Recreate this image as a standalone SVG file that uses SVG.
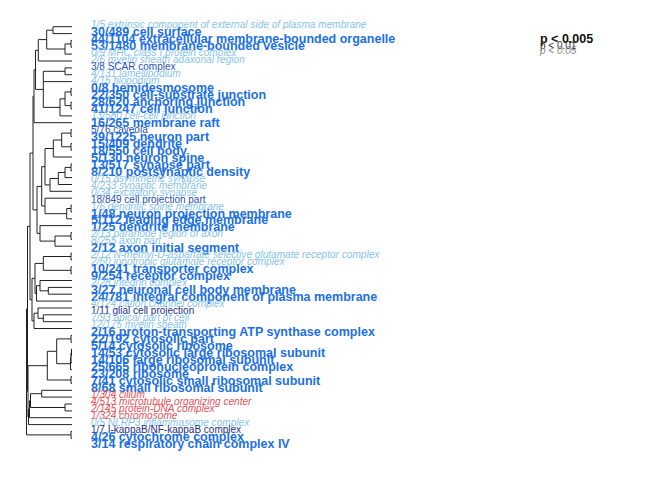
<svg xmlns="http://www.w3.org/2000/svg" width="672" height="480" viewBox="0 0 672 480">
<style>
text{font-family:"Liberation Sans",Arial,sans-serif}
.b{font-size:12.5px;font-weight:bold;fill:#1b6fe6}
.i{font-size:10.1px;font-style:italic;fill:#88c4ea}
.n{font-size:10px;fill:#2a4fb8}
.d{font-size:10px;fill:#1f2d8a}
.r{font-size:10.1px;font-style:italic;fill:#e5525a}
.tree{fill:none;stroke:#222;stroke-width:1}
</style>
<rect width="672" height="480" fill="#fff"/>
<g id="connectors">
<path class="tree" d="M53 26.7V33.6M53 26.7H72M53 33.6H72
M71 40.4V47.3M71 40.4H72M71 47.3H72
M65 43.9V54.1M65 43.9H71M65 54.1H72
M46.7 30.2V49M46.7 30.2H53M46.7 49H65
M38.3 39.6V61M38.3 39.6H46.7M38.3 61H72
M65 67.9V74.7M65 67.9H72M65 74.7H72
M71 88.4V95.3M71 88.4H72M71 95.3H72
M71 102.2V109M71 102.2H72M71 109H72
M65 91.9V105.6M65 91.9H71M65 105.6H71
M60 98.8V115.9M60 98.8H65M60 115.9H72
M43.3 71.3V107.4M43.3 71.3H65M43.3 81.6H72M43.3 107.4H60
M35.5 50.3V89.4M35.5 50.3H38.3M35.5 89.4H43.3
M34 69.9V122.7M34 69.9H35.5M34 122.7H72
M71 129.6V136.5M71 129.6H72M71 136.5H72
M71 143.3V150.2M71 143.3H72M71 150.2H72
M61.7 133.1V146.8M61.7 133.1H71M61.7 146.8H71
M53.3 140V157M53.3 140H61.7M53.3 157H72
M71 163.9V170.8M71 163.9H72M71 170.8H72
M65 167.4V177.6M65 167.4H71M65 177.6H72
M58.3 172.5V184.5M58.3 172.5H65M58.3 184.5H72
M50 178.5V191.3M50 178.5H58.3M50 191.3H72
M45 148.5V184.9M45 148.5H53.3M45 184.9H50
M71 205.1V211.9M71 205.1H72M71 211.9H72
M66.7 208.5V218.8M66.7 208.5H71M66.7 218.8H72
M45 198.2V213.7M45 198.2H72M45 213.7H66.7
M41.7 166.7V206M41.7 166.7H45M41.7 206H45
M71 232.5V239.4M71 232.5H72M71 239.4H72
M55 236V246.2M55 236H71M55 246.2H72
M40 225.6V241.1M40 225.6H72M40 241.1H55
M37 186.4V233.4M37 186.4H41.7M37 233.4H40
M33 96.3V209.9M33 96.3H34M33 209.9H37
M71 253.1V259.9M71 253.1H72M71 259.9H72
M71 266.8V273.7M71 266.8H72M71 273.7H72
M43.3 256.5V270.3M43.3 256.5H71M43.3 270.3H71
M48.3 287.4V294.2M48.3 287.4H72M48.3 294.2H72
M40 280.5V290.8M40 280.5H72M40 290.8H48.3
M36.5 285.7V301.1M36.5 285.7H40M36.5 301.1H72
M35 263.4V293.4M35 263.4H43.3M35 293.4H36.5
M43.3 314.8V321.7M43.3 314.8H72M43.3 321.7H72
M38 308V318.3M38 308H72M38 318.3H43.3
M34 313.2V328.5M34 313.2H38M34 328.5H72
M32 278.4V320.9M32 278.4H35M32 320.9H34
M30 153.1V299.7M30 153.1H33M30 299.7H32
M71 335.4V342.3M71 335.4H72M71 342.3H72
M71.5 349.1V356M71.5 349.1H72M71.5 356H72
M71 352.6V362.8M71 352.6H71.5M71 362.8H72
M70.5 357.7V369.7M70.5 357.7H71M70.5 369.7H72
M56.7 338.9V363.7M56.7 338.9H71M56.7 363.7H70.5
M71 376.6V383.4M71 376.6H72M71 383.4H72
M47.3 351.3V380M47.3 351.3H56.7M47.3 380H71
M41.7 390.3V397.1M41.7 390.3H72M41.7 397.1H72
M65 404V410.9M65 404H72M65 410.9H72
M30.5 393.7V407.5M30.5 393.7H41.7M30.5 407.5H65
M29.5 400.6V417.7M29.5 400.6H30.5M29.5 417.7H72
M28.5 409.2V424.6M28.5 409.2H29.5M28.5 424.6H72
M28 365.7V416.9M28 365.7H47.3M28 416.9H28.5
M71 431.4V438.3M71 431.4H72M71 438.3H72
M27.5 226.4V391.3M27.5 226.4H30M27.5 391.3H28
M26.5 308.9V434.9M26.5 308.9H27.5M26.5 434.9H71"/>
</g>
<g id="leaf-00"><text class="i" x="91" y="28">1/5 extrinsic component of external side of plasma membrane</text></g>
<g id="leaf-01"><text class="b" x="91" y="36">30/489 cell surface</text></g>
<g id="leaf-02"><text class="b" x="91" y="43">44/1104 extracellular membrane-bounded organelle</text></g>
<g id="leaf-03"><text class="b" x="91" y="49.9">53/1480 membrane-bounded vesicle</text></g>
<g id="leaf-04"><text class="i" x="91" y="55.9">0/9 MHC class I protein complex</text></g>
<g id="leaf-05"><text class="i" x="91" y="62.9">2/6 myelin sheath adaxonal region</text></g>
<g id="leaf-06"><text class="n" x="91" y="69.9">3/8 SCAR complex</text></g>
<g id="leaf-07"><text class="i" x="91" y="76.9">4/131 lamellipodium</text></g>
<g id="leaf-08"><text class="i" x="91" y="83.8">4/15 filopodium</text></g>
<g id="leaf-09"><text class="b" x="91" y="91.8">0/8 hemidesmosome</text></g>
<g id="leaf-10"><text class="b" x="91" y="98.8">22/350 cell-substrate junction</text></g>
<g id="leaf-11"><text class="b" x="91" y="105.8">28/620 anchoring junction</text></g>
<g id="leaf-12"><text class="b" x="91" y="112.8">41/1247 cell junction</text></g>
<g id="leaf-13"><text class="i" x="91" y="118.7">13/580 cell-cell junction</text></g>
<g id="leaf-14"><text class="b" x="91" y="126.7">16/265 membrane raft</text></g>
<g id="leaf-15"><text class="n" x="91" y="132.7">5/76 caveola</text></g>
<g id="leaf-16"><text class="b" x="91" y="140.7">39/1225 neuron part</text></g>
<g id="leaf-17"><text class="b" x="91" y="147.7">15/409 dendrite</text></g>
<g id="leaf-18"><text class="b" x="91" y="154.6">18/550 cell body</text></g>
<g id="leaf-19"><text class="b" x="91" y="161.6">5/130 neuron spine</text></g>
<g id="leaf-20"><text class="b" x="91" y="168.6">13/517 synapse part</text></g>
<g id="leaf-21"><text class="b" x="91" y="175.6">8/210 postsynaptic density</text></g>
<g id="leaf-22"><text class="i" x="91" y="181.6">0/15 asymmetric synapse</text></g>
<g id="leaf-23"><text class="i" x="91" y="188.5">4/233 synaptic membrane</text></g>
<g id="leaf-24"><text class="i" x="91" y="195.5">0/34 excitatory synapse</text></g>
<g id="leaf-25"><text class="n" x="91" y="202.5">18/849 cell projection part</text></g>
<g id="leaf-26"><text class="i" x="91" y="209.5">1/6 dendritic spine membrane</text></g>
<g id="leaf-27"><text class="b" x="91" y="217.5">1/48 neuron projection membrane</text></g>
<g id="leaf-28"><text class="b" x="91" y="224.4">5/112 leading edge membrane</text></g>
<g id="leaf-29"><text class="b" x="91" y="231.4">1/25 dendrite membrane</text></g>
<g id="leaf-30"><text class="i" x="91" y="237.4">2/13 paranode region of axon</text></g>
<g id="leaf-31"><text class="i" x="91" y="244.4">8/255 axon part</text></g>
<g id="leaf-32"><text class="b" x="91" y="252.4">2/12 axon initial segment</text></g>
<g id="leaf-33"><text class="i" x="91" y="258.3">2/12 N-methyl-D-aspartate selective glutamate receptor complex</text></g>
<g id="leaf-34"><text class="i" x="91" y="265.3">2/60 ionotropic glutamate receptor complex</text></g>
<g id="leaf-35"><text class="b" x="91" y="273.3">10/241 transporter complex</text></g>
<g id="leaf-36"><text class="b" x="91" y="280.3">9/254 receptor complex</text></g>
<g id="leaf-37"><text class="i" x="91" y="286.3">2/28 integrin complex</text></g>
<g id="leaf-38"><text class="b" x="91" y="294.2">3/27 neuronal cell body membrane</text></g>
<g id="leaf-39"><text class="b" x="91" y="301.2">24/781 integral component of plasma membrane</text></g>
<g id="leaf-40"><text class="i" x="91" y="307.2">4/124 cation channel complex</text></g>
<g id="leaf-41"><text class="d" x="91" y="314.2">1/11 glial cell projection</text></g>
<g id="leaf-42"><text class="i" x="91" y="321.2">7/93 apical part of cell</text></g>
<g id="leaf-43"><text class="i" x="91" y="328.1">12/175 myelin sheath</text></g>
<g id="leaf-44"><text class="b" x="91" y="336.1">2/16 proton-transporting ATP synthase complex</text></g>
<g id="leaf-45"><text class="b" x="91" y="343.1">22/192 cytosolic part</text></g>
<g id="leaf-46"><text class="b" x="91" y="350.1">5/14 cytosolic ribosome</text></g>
<g id="leaf-47"><text class="b" x="91" y="357.1">14/53 cytosolic large ribosomal subunit</text></g>
<g id="leaf-48"><text class="b" x="91" y="364">14/106 large ribosomal subunit</text></g>
<g id="leaf-49"><text class="b" x="91" y="371">25/665 ribonucleoprotein complex</text></g>
<g id="leaf-50"><text class="b" x="91" y="378">23/208 ribosome</text></g>
<g id="leaf-51"><text class="b" x="91" y="385">7/41 cytosolic small ribosomal subunit</text></g>
<g id="leaf-52"><text class="b" x="91" y="392">8/68 small ribosomal subunit</text></g>
<g id="leaf-53"><text class="r" x="91" y="397.9">1/304 cilium</text></g>
<g id="leaf-54"><text class="r" x="91" y="404.9">4/513 microtubule organizing center</text></g>
<g id="leaf-55"><text class="r" x="91" y="411.9">2/145 protein-DNA complex</text></g>
<g id="leaf-56"><text class="r" x="91" y="418.9">1/324 chromosome</text></g>
<g id="leaf-57"><text class="i" x="91" y="425.9">0/5 NLRP3 inflammasome complex</text></g>
<g id="leaf-58"><text class="d" x="91" y="432.8">1/7 I-kappaB/NF-kappaB complex</text></g>
<g id="leaf-59"><text class="b" x="91" y="440.8">4/26 cytochrome complex</text></g>
<g id="leaf-60"><text class="b" x="91" y="447.8">3/14 respiratory chain complex IV</text></g>
<g id="legend">
<text x="540" y="42.5" style="font-size:12.5px;font-weight:bold;fill:#111">p &lt; 0.005</text>
<text x="540" y="48.5" style="font-size:10px;fill:#333">p &lt; 0.01</text>
<text x="540" y="54" style="font-size:10px;font-style:italic;fill:#888">p &lt; 0.05</text>
</g>
</svg>
